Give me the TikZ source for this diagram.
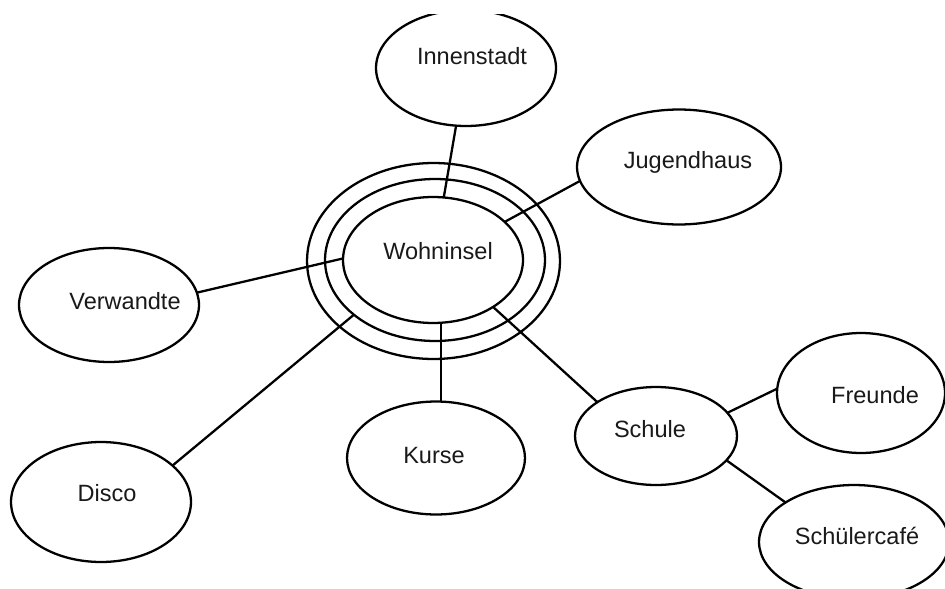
\documentclass[tikz,border=0pt]{standalone}
\usepackage{fontspec}
\setmainfont{Liberation Sans}
\usetikzlibrary{shapes.geometric}

\begin{document}
\begin{tikzpicture}[x=0.02cm,y=-0.02cm,%%
  placeStyle/.style={ellipse,draw,line width=1.3pt,inner sep=0pt,outer sep=0pt},%%
  wordStyle/.style={font=\fontsize{13.4}{16}\selectfont,inner sep=0pt,text=black!90},%%
  lineStyle/.style={-,line width=1.3pt}%%
]
%%
%% Page frame in pixels; the top strip stays empty.
\useasboundingbox (0,0) rectangle (945,588);
\clip (0,15) rectangle (945,588);
%%
%% The three rings of the centre.
\node[placeStyle,minimum width=3.6cm,minimum height=2.52cm] (wohn) at (433,260) {};
\node[placeStyle,minimum width=4.4cm,minimum height=3.24cm] (ringB) at (435,260) {};
\node[placeStyle,minimum width=5.06cm,minimum height=3.92cm] (ringC) at (433.5,261) {};
\node[wordStyle] (wohnText) at (438,251) {Wohninsel};
%%
%% The places round the centre.
\node[placeStyle,minimum width=3.6cm,minimum height=2.32cm] (innen) at (466,68) {};
\node[wordStyle] (innenText) at (472,56) {Innenstadt};
\node[placeStyle,minimum width=4.08cm,minimum height=2.3cm] (jugend) at (679,167) {};
\node[wordStyle] (jugendText) at (688,162) {Jugendhaus};
\node[placeStyle,minimum width=3.6cm,minimum height=2.28cm] (verw) at (109,305) {};
\node[wordStyle] (verwText) at (125,301) {Verwandte};
\node[placeStyle,minimum width=3.6cm,minimum height=2.4cm] (disco) at (101,502) {};
\node[wordStyle] (discoText) at (107,493) {Disco};
\node[placeStyle,minimum width=3.56cm,minimum height=2.26cm] (kurse) at (436,458) {};
\node[wordStyle] (kurseText) at (434,456) {Kurse};
\node[placeStyle,minimum width=3.24cm,minimum height=1.96cm] (schule) at (656,436) {};
\node[wordStyle] (schuleText) at (650,429) {Schule};
\node[placeStyle,minimum width=3.36cm,minimum height=2.4cm] (freunde) at (861,393) {};
\node[wordStyle] (freundeText) at (875,395) {Freunde};
\node[placeStyle,minimum width=3.8cm,minimum height=2.28cm] (cafe) at (854,542) {};
\node[wordStyle] (cafeText) at (857,536) {Schülercafé};
%%
%% Connectors, they run through the rings.
\draw[lineStyle] (innen) -- (wohn);
\draw[lineStyle] (jugend.188) -- (wohn.28);
\draw[lineStyle] (verw.8) -- (wohn.179);
\draw[lineStyle] (disco.27) -- (ringB.214);
\draw[lineStyle] (kurse.85) -- (kurse.85 |- wohn.south);
\draw[lineStyle] (schule.150) -- (wohn.322);
\draw[lineStyle] (schule.18) -- (freunde.177);
\draw[lineStyle] (schule.341) -- (cafe.150);
\end{tikzpicture}
\end{document}
